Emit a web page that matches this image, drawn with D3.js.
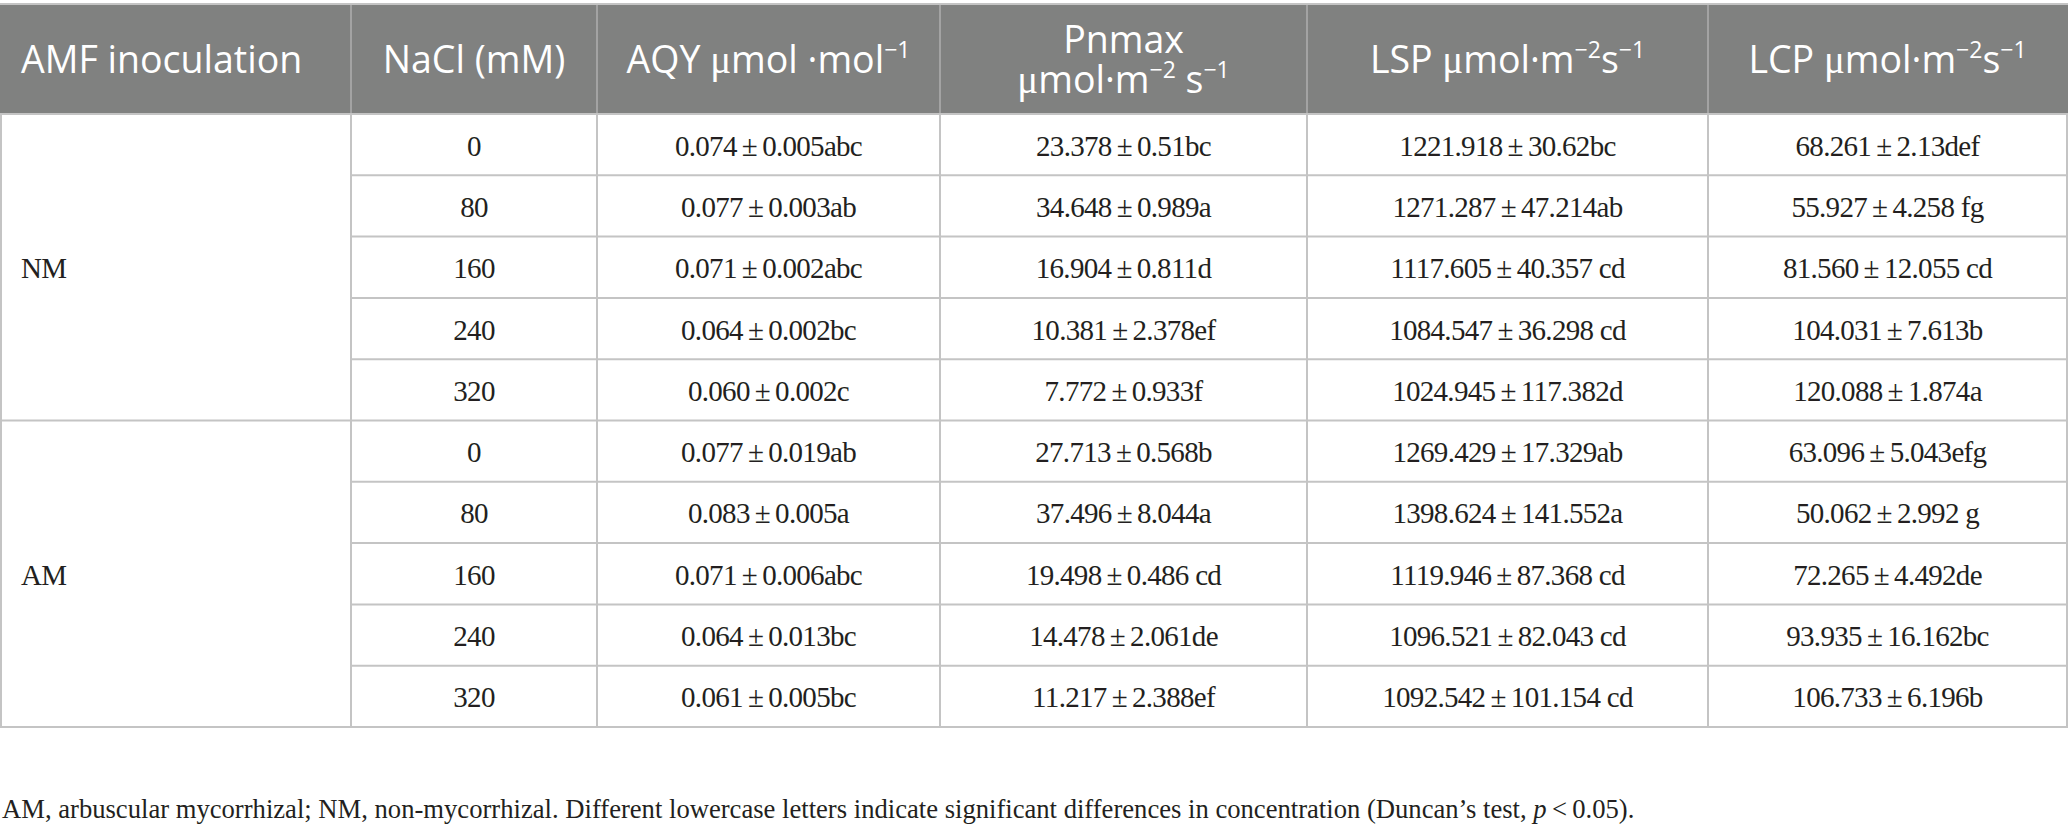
<!DOCTYPE html>
<html>
<head>
<meta charset="utf-8">
<script src="https://cdn.jsdelivr.net/npm/d3@7"></script>
<style>
    body { margin: 0; background: #fff; }
    svg { display: block; }
    .cell { font-family: "Liberation Serif", serif; font-size: 29px; fill: #231f20; letter-spacing: -0.7px; }
    .head { font-family: "Open Sans", sans-serif; font-size: 37.5px; fill: #fff; }
    .foot { font-family: "Liberation Serif", serif; font-size: 28px; fill: #231f20; }
</style>
</head>
<body>
<div id="table"></div>
<script>
// table content
var groups = ["NM", "AM"];
var nacl = ["0", "80", "160", "240", "320", "0", "80", "160", "240", "320"];

var aqyMean = ["0.074", "0.077", "0.071", "0.064", "0.060", "0.077", "0.083", "0.071", "0.064", "0.061"];
var aqySd = ["0.005", "0.003", "0.002", "0.002", "0.002", "0.019", "0.005", "0.006", "0.013", "0.005"];
var aqyLetter = ["abc", "ab", "abc", "bc", "c", "ab", "a", "abc", "bc", "bc"];

var pnMean = ["23.378", "34.648", "16.904", "10.381", "7.772", "27.713", "37.496", "19.498", "14.478", "11.217"];
var pnSd = ["0.51", "0.989", "0.811", "2.378", "0.933", "0.568", "8.044", "0.486", "2.061", "2.388"];
var pnLetter = ["bc", "a", "d", "ef", "f", "b", "a", " cd", "de", "ef"];

var lspMean = ["1221.918", "1271.287", "1117.605", "1084.547", "1024.945", "1269.429", "1398.624", "1119.946", "1096.521", "1092.542"];
var lspSd = ["30.62", "47.214", "40.357", "36.298", "117.382", "17.329", "141.552", "87.368", "82.043", "101.154"];
var lspLetter = ["bc", "ab", " cd", " cd", "d", "ab", "a", " cd", " cd", " cd"];

var lcpMean = ["68.261", "55.927", "81.560", "104.031", "120.088", "63.096", "50.062", "72.265", "93.935", "106.733"];
var lcpSd = ["2.13", "4.258", "12.055", "7.613", "1.874", "5.043", "2.992", "4.492", "16.162", "6.196"];
var lcpLetter = ["def", " fg", " cd", "b", "a", "efg", " g", "de", "bc", "b"];

// header segments: [text, kind]  kind 0 = normal, 1 = superscript, 2 = greek
var headers = [
    [[["AMF inoculation", 0]]],
    [[["NaCl (mM)", 0]]],
    [[["AQY ", 0], ["\u03bc", 2], ["mol \u00b7mol", 0], ["\u22121", 1]]],
    [[["Pnmax", 0]], [["\u03bc", 2], ["mol\u00b7m", 0], ["\u22122", 1], [" s", 0], ["\u22121", 1]]],
    [[["LSP ", 0], ["\u03bc", 2], ["mol\u00b7m", 0], ["\u22122", 1], ["s", 0], ["\u22121", 1]]],
    [[["LCP ", 0], ["\u03bc", 2], ["mol\u00b7m", 0], ["\u22122", 1], ["s", 0], ["\u22121", 1]]]
];

var footnote = "AM, arbuscular mycorrhizal; NM, non-mycorrhizal. Different lowercase letters indicate significant differences in concentration (Duncan\u2019s test, ";

var width = 2068, height = 830;
var tableTop = 4, headBottom = 114, tableBottom = 727;
var colShare = [350, 246, 343, 367, 401, 359];
var lineColor = "#c4c4c4";
var footWidth = 1633;

var svg = d3.select("#table").append("svg")
    .attr("width", width)
    .attr("height", height);

// column edges from shares
var edges = [1];
colShare.forEach(function(w) { edges.push(edges[edges.length - 1] + w); });
edges[edges.length - 1] = width - 1;
var colMid = function(i) { return (edges[i] + edges[i + 1]) / 2; };

var rows = d3.range(nacl.length);
var yScale = d3.scaleBand()
    .domain(rows)
    .range([headBottom, tableBottom]);

function fmt(m, s, l) { return m + "\u2009\u00b1\u2009" + s + l; }
var cells = rows.map(function(i) {
    return [
        nacl[i],
        fmt(aqyMean[i], aqySd[i], aqyLetter[i]),
        fmt(pnMean[i], pnSd[i], pnLetter[i]),
        fmt(lspMean[i], lspSd[i], lspLetter[i]),
        fmt(lcpMean[i], lcpSd[i], lcpLetter[i])
    ];
});

// Header background
svg.append("rect")
    .attr("x", 0)
    .attr("y", tableTop)
    .attr("width", width)
    .attr("height", headBottom - tableTop)
    .attr("fill", "#808180");

// Header text
headers.forEach(function(lines, c) {
    var n = lines.length;
    var lh = 40;
    lines.forEach(function(segs, li) {
        var t = svg.append("text")
            .attr("class", "head")
            .attr("x", c == 0 ? 21 : colMid(c))
            .attr("y", (tableTop + headBottom) / 2 + 14 + (li - (n - 1) / 2) * lh)
            .attr("text-anchor", c == 0 ? "start" : "middle");
        var raised = false;
        segs.forEach(function(s) {
            var ts = t.append("tspan").text(s[0]);
            if (s[1] == 1) {
                ts.attr("font-size", "23px").attr("dy", raised ? 0 : -15);
                raised = true;
            } else {
                if (raised) ts.attr("dy", 15);
                raised = false;
                if (s[1] == 2) ts.style("font-family", "'Liberation Serif', serif").attr("font-size", "39px");
            }
        });
    });
});

// Header vertical separators
svg.selectAll(".hsep")
    .data(edges.slice(1, -1))
    .enter().append("line")
    .attr("x1", d => d).attr("x2", d => d)
    .attr("y1", tableTop).attr("y2", headBottom)
    .attr("stroke", "#a3a3a3")
    .attr("stroke-width", 2);

// Body vertical lines
svg.selectAll(".vline")
    .data(edges)
    .enter().append("line")
    .attr("x1", d => d).attr("x2", d => d)
    .attr("y1", headBottom).attr("y2", tableBottom)
    .attr("stroke", lineColor)
    .attr("stroke-width", 2);

// Row separators (not crossing the merged group column)
svg.selectAll(".rline")
    .data(rows.slice(1).filter(i => i != 5))
    .enter().append("line")
    .attr("x1", edges[1]).attr("x2", edges[6])
    .attr("y1", d => yScale(d)).attr("y2", d => yScale(d))
    .attr("stroke", lineColor)
    .attr("stroke-width", 2);

// Full-width lines
svg.selectAll(".fline")
    .data([tableTop, headBottom, yScale(5), tableBottom])
    .enter().append("line")
    .attr("x1", 0).attr("x2", width)
    .attr("y1", d => d).attr("y2", d => d)
    .attr("stroke", lineColor)
    .attr("stroke-width", 2);

// Group labels
svg.selectAll(".group")
    .data(groups)
    .enter().append("text")
    .attr("class", "cell")
    .attr("x", 21)
    .attr("y", (d, i) => yScale(i * 5) + yScale.step() * 2.5 + 11)
    .text(d => d);

// Cell text
rows.forEach(function(i) {
    svg.selectAll(null)
        .data(cells[i])
        .enter().append("text")
        .attr("class", "cell")
        .attr("x", (d, c) => colMid(c + 1))
        .attr("y", yScale(i) + yScale.bandwidth() / 2 + 11)
        .attr("text-anchor", "middle")
        .style("white-space", "pre")
        .text(d => d);
});

// Footnote, squeezed horizontally to the reference width
var ft = svg.append("text")
    .attr("class", "foot")
    .attr("x", 0)
    .attr("y", 0);
ft.append("tspan").text(footnote);
ft.append("tspan").attr("font-style", "italic").text("p");
ft.append("tspan").text("\u2009<\u20090.05).");
var sx = footWidth / ft.node().getComputedTextLength();
ft.attr("transform", "translate(2,818) scale(" + sx + ",1)");
</script>
</body>
</html>
